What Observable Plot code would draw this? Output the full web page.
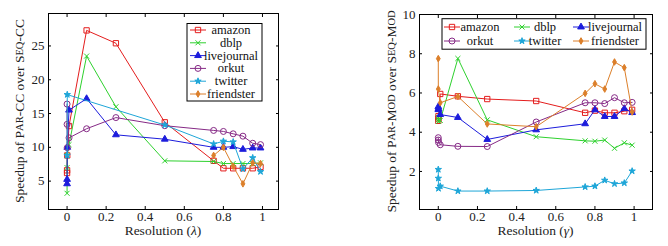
<!DOCTYPE html>
<html><head><meta charset="utf-8">
<script src="https://cdn.jsdelivr.net/npm/d3@7"></script>
<script src="https://cdn.jsdelivr.net/npm/@observablehq/plot@0.6"></script>
<style>
body{margin:0;background:#fff;}
#wrap{display:flex;width:668px;height:246px;overflow:hidden;}
#wrap svg{display:block;}
#wrap svg, #wrap svg text, #wrap svg tspan, #wrap svg g{font-family:"Liberation Serif","DejaVu Serif",serif !important;}
</style></head><body><div id="wrap"></div>
<script>
// Resolution values (x)
const resolution = [0, 0.0001, 0.001, 0.01, 0.1, 0.25, 0.5, 0.75, 0.8, 0.85, 0.9, 0.95, 0.99];
const seriesNames = ["amazon", "dblp", "livejournal", "orkut", "twitter", "friendster"];

// Left: speedup of Par-CC over Seq-CC
const ccAmazon      = [6.2, 6.6, 8.8, 13.15, 27.3, 25.4, 13.7, 8.0, 6.9, 6.9, 6.9, 6.9, 7.1];
const ccDblp        = [3.2, 7.0, 8.8, 10.4, 23.5, 16.0, 8.0, 7.9, 7.6, 7.6, 7.6, 7.6, 7.7];
const ccLivejournal = [4.6, 5.25, 10.0, 15.5, 17.2, 11.85, 11.2, 10.0, 10.0, 10.1, 9.7, 9.9, 9.9];
const ccOrkut       = [16.4, 13.4, 9.95, 11.4, 12.75, 14.4, 13.2, 12.5, 12.35, 12.0, 11.65, 10.6, 10.4];
const ccTwitter     = [null, 8.8, 17.8, null, null, null, 13.3, 10.5, 10.9, 10.8, 6.8, 8.45, 6.4];
const ccFriendster  = [null, null, null, null, null, null, null, 8.8, 10.0, 7.2, 4.6, 7.7, 7.6];

// Right: speedup of Par-Mod over Seq-Mod
const modAmazon      = [4.58, 4.7, 4.82, 5.95, 5.83, 5.69, 5.59, 4.99, 5.1, 4.99, 4.99, 5.07, 5.14];
const modDblp        = [4.75, 4.65, 4.55, 4.6, 7.76, 4.63, 3.77, 3.56, 3.54, 3.6, 3.18, 3.46, 3.34];
const modLivejournal = [5.15, 5.3, 5.2, 4.9, 4.75, 3.63, 4.12, 4.43, 5.14, 4.8, 4.8, 5.2, 5.0];
const modOrkut       = [3.72, 3.6, 3.48, 3.36, 3.28, 3.27, 4.52, 5.5, 5.5, 5.46, 5.76, 5.5, 5.52];
const modTwitter     = [2.1, 1.65, 1.13, 1.25, 1.0, 1.0, 1.03, 1.21, 1.25, 1.55, 1.37, 1.41, 2.02];
const modFriendster  = [7.75, 6.2, null, 5.5, 5.82, 4.42, 4.28, 5.98, 6.47, 6.2, 7.58, 7.29, 5.03];

const xTicks = [0, 0.2, 0.4, 0.6, 0.8, 1];
const ccYTicks = [5, 10, 15, 20, 25];
const modYTicks = [2, 4, 6, 8, 10];

const FONT = '"Liberation Serif","DejaVu Serif",serif';
const colors = ["#e41d1d", "#2ed12e", "#1c1cdc", "#862a86", "#1ea6d8", "#dc7f2a"];
const symbols = ["square", "times", "triangle", "circle", "star", "diamond"];
const d3symbols = [d3.symbolSquare, d3.symbolTimes, d3.symbolTriangle, d3.symbolCircle, d3.symbolStar, d3.symbolDiamond];
const filled = [false, false, true, false, true, true];
const radii = [3.0, 2.4, 2.5, 3.0, 2.0, 2.0];

function buildRows(valueArrays) {
  const rows = [];
  valueArrays.forEach((vals, i) => {
    vals.forEach((v, j) => { if (v != null) rows.push({series: seriesNames[i], x: resolution[j], y: v}); });
  });
  return rows;
}

function makeChart(cfg) {
  const rows = buildRows(cfg.values);
  const marks = [];
  seriesNames.forEach((s, i) => {
    const d = rows.filter(r => r.series === s);
    marks.push(Plot.line(d, {x: "x", y: "y", stroke: colors[i], strokeWidth: 1}));
    marks.push(Plot.dot(d, {x: "x", y: "y", symbol: symbols[i], r: radii[i], stroke: colors[i], strokeWidth: 1,
      fill: filled[i] ? colors[i] : "none"}));
  });
  marks.push(Plot.frame({stroke: "#000", strokeWidth: 1}));
  marks.push(Plot.axisX(xTicks, {anchor: "bottom", tickSize: -3, tickPadding: 5, tickFormat: d => String(d), fontSize: 13, fill: "#222", label: null}));
  marks.push(Plot.axisX(xTicks, {anchor: "top", tickSize: -3, tickFormat: () => "", label: null}));
  marks.push(Plot.axisY(cfg.yTicks, {anchor: "left", tickSize: -3, tickPadding: 7, tickFormat: d => String(d), fontSize: 13, fill: "#222", label: null}));
  marks.push(Plot.axisY(cfg.yTicks, {anchor: "right", tickSize: -3, tickFormat: () => "", label: null}));
  const chart = Plot.plot({
    width: 334, height: 246,
    marginLeft: cfg.ml, marginRight: cfg.mr, marginTop: cfg.mt, marginBottom: cfg.mb,
    x: {domain: cfg.xDomain},
    y: {domain: cfg.yDomain},
    style: {fontFamily: FONT, background: "#fff", overflow: "visible"},
    marks
  });
  const svg = d3.select(chart);
  svg.selectAll("text").attr("font-family", FONT);
  const plotL = cfg.ml, plotR = 334 - cfg.mr, plotT = cfg.mt, plotB = 246 - cfg.mb;
  // x label
  const xl = svg.append("text").attr("x", (plotL + plotR) / 2).attr("y", 235)
    .attr("text-anchor", "middle").attr("font-size", 13.5).attr("fill", "#222").attr("font-family", FONT);
  xl.append("tspan").text("Resolution (");
  xl.append("tspan").attr("font-style", "italic").text(cfg.greek);
  xl.append("tspan").text(")");
  // y label with small caps
  const yl = svg.append("text").attr("transform", `translate(${cfg.ylx},${(plotT + plotB) / 2}) rotate(-90)`)
    .attr("text-anchor", "middle").attr("dominant-baseline", "central").attr("font-size", 13.5)
    .attr("fill", "#222").attr("font-family", FONT);
  cfg.ylabel.forEach(([t, small]) => {
    const ts = yl.append("tspan").text(t);
    if (small) ts.attr("font-size", 10.5);
  });
  // legend
  const lg = svg.append("g");
  const L = cfg.legend;
  lg.append("rect").attr("x", L.x).attr("y", L.y).attr("width", L.w).attr("height", L.h)
    .attr("fill", "#fff").attr("stroke", "#000").attr("stroke-width", 1);
  seriesNames.forEach((s, i) => {
    const p = L.pos(i);
    lg.append("line").attr("x1", p.sx - 8).attr("x2", p.sx + 8).attr("y1", p.y).attr("y2", p.y)
      .attr("stroke", colors[i]).attr("stroke-width", 1);
    lg.append("path").attr("transform", `translate(${p.sx},${p.y})`)
      .attr("d", d3.symbol(d3symbols[i], Math.PI * radii[i] * radii[i])())
      .attr("stroke", colors[i]).attr("fill", filled[i] ? colors[i] : "none").attr("stroke-width", 1);
    lg.append("text").attr("x", p.tx).attr("y", p.y).attr("text-anchor", "middle")
      .attr("dominant-baseline", "central").attr("font-size", 12.5).attr("fill", "#111")
      .attr("font-family", FONT).text(s);
  });
  return chart;
}

const left = makeChart({
  values: [ccAmazon, ccDblp, ccLivejournal, ccOrkut, ccTwitter, ccFriendster],
  yTicks: ccYTicks,
  xDomain: [-0.095, 1.082], yDomain: [0.8, 29.8],
  ml: 48, mr: 56, mt: 13, mb: 37,
  greek: "λ", ylx: 19,
  ylabel: [["Speedup of P", false], ["AR", true], ["-CC over S", false], ["EQ", true], ["-CC", false]],
  legend: {x: 187, y: 23.5, w: 75, h: 77.5, pos: i => ({sx: 198, tx: 231, y: 30 + i * 12.8})}
});
const right = makeChart({
  values: [modAmazon, modDblp, modLivejournal, modOrkut, modTwitter, modFriendster],
  yTicks: modYTicks,
  xDomain: [-0.096, 1.094], yDomain: [0.06, 10],
  ml: 85, mr: 16, mt: 14, mb: 37,
  greek: "γ", ylx: 57,
  ylabel: [["Speedup of P", false], ["AR", true], ["-M", false], ["OD", true], [" over S", false], ["EQ", true], ["-M", false], ["OD", true]],
  legend: {x: 108, y: 18.7, w: 204, h: 30.5, pos: i => {
    const col = i % 3, row = Math.floor(i / 3);
    return {sx: [118, 188, 247][col], tx: [146, 211, 281][col], y: 27 + row * 14};
  }}
});
document.getElementById("wrap").append(left, right);
</script></body></html>
